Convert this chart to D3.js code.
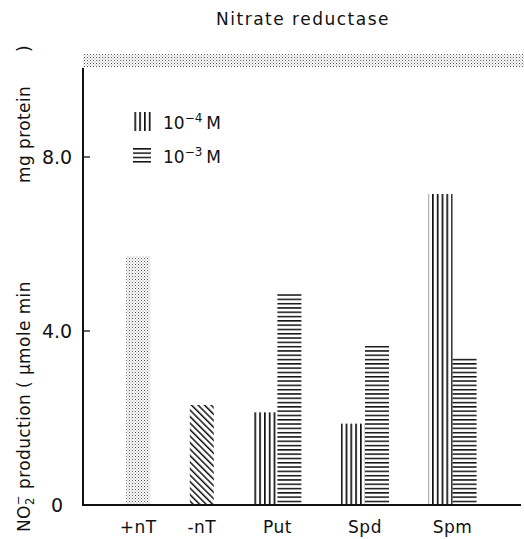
<!DOCTYPE html>
<html>
<head>
<meta charset="utf-8">
<script src="https://cdn.jsdelivr.net/npm/d3@7"></script>
<style>
  body { margin: 0; background: #fff; }
  text { font-family: "DejaVu Sans", sans-serif; fill: #111; }
</style>
</head>
<body>
<svg id="chart" width="524" height="539"></svg>
<script>
// data
var categories = ['+nT', '-nT', 'Put', 'Spd', 'Spm'];
var controlValues = [5.72, 2.30, null, null, null];
var lowValues = [null, null, 2.13, 1.87, 7.15];   // 10^-4 M
var highValues = [null, null, 4.86, 3.67, 3.40];  // 10^-3 M
var yTicks = [0, 4, 8];
var yTickLabels = ['0', '4.0', '8.0'];

var svg = d3.select('#chart');
var axisX = 83, baseY = 505, topY = 68;
var barW = 24, gap = 1.65, firstGap = 1.8;

var y = d3.scaleLinear().domain([0, 8]).range([baseY, 157]);
var x = d3.scaleLinear().domain([0, 1]).range([axisX, axisX + barW]);

var defs = svg.append('defs');

// stipple
var stip = defs.append('pattern').attr('id', 'stipple')
  .attr('patternUnits', 'userSpaceOnUse').attr('width', 3).attr('height', 3);
stip.append('rect').attr('x', 0).attr('y', 0).attr('width', 1).attr('height', 1).attr('fill', '#555');
stip.append('rect').attr('x', 1.5).attr('y', 1.5).attr('width', 1).attr('height', 1).attr('fill', '#888');

// diagonal "\"
var diag = defs.append('pattern').attr('id', 'diag')
  .attr('patternUnits', 'userSpaceOnUse').attr('width', 4.6).attr('height', 10)
  .attr('patternTransform', 'rotate(-45)');
diag.append('rect').attr('x', 0).attr('y', 0).attr('width', 1.5).attr('height', 10).attr('fill', '#111');

// vertical lines
var vert = defs.append('pattern').attr('id', 'vert')
  .attr('patternUnits', 'userSpaceOnUse').attr('width', 4.8).attr('height', 10);
vert.append('rect').attr('x', 0).attr('y', 0).attr('width', 1.7).attr('height', 10).attr('fill', '#111');

// horizontal lines
var horiz = defs.append('pattern').attr('id', 'horiz')
  .attr('patternUnits', 'userSpaceOnUse').attr('width', 10).attr('height', 4.3)
  .attr('y', baseY);
horiz.append('rect').attr('x', 0).attr('y', 0).attr('width', 10).attr('height', 1.5).attr('fill', '#111');

// build bars, groups laid out one after another with a constant gap
var bars = [];
var pos = firstGap;
categories.forEach(function (c, i) {
  var start = pos;
  var members = [];
  if (controlValues[i] != null) {
    members.push({ v: controlValues[i], fill: i === 0 ? 'url(#stipple)' : 'url(#diag)' });
  }
  if (lowValues[i] != null) members.push({ v: lowValues[i], fill: 'url(#vert)' });
  if (highValues[i] != null) members.push({ v: highValues[i], fill: 'url(#horiz)' });
  members.forEach(function (m, j) {
    bars.push({ u: start + j, v: m.v, fill: m.fill });
  });
  var center = start + members.length / 2;
  svg.append('text')
    .attr('x', x(center)).attr('y', 533)
    .attr('text-anchor', 'middle')
    .style('font-size', '17px')
    .style('letter-spacing', '0.5px')
    .text(c);
  pos = start + members.length + gap;
});

svg.selectAll('rect.bar').data(bars).enter()
  .append('rect')
  .attr('class', 'bar')
  .attr('x', function (d) { return x(d.u); })
  .attr('y', function (d) { return y(d.v); })
  .attr('width', barW)
  .attr('height', function (d) { return baseY - y(d.v); })
  .attr('fill', function (d) { return d.fill; });

// top stippled band
svg.append('rect')
  .attr('x', axisX).attr('y', 54)
  .attr('width', 524 - axisX).attr('height', 13)
  .attr('fill', 'url(#stipple)');

// axes
svg.append('line')
  .attr('x1', axisX).attr('x2', axisX)
  .attr('y1', topY).attr('y2', baseY + 1)
  .attr('stroke', '#111').attr('stroke-width', 2);
svg.append('line')
  .attr('x1', axisX - 1).attr('x2', 521)
  .attr('y1', baseY).attr('y2', baseY)
  .attr('stroke', '#111').attr('stroke-width', 2);

svg.selectAll('line.tick').data(yTicks.filter(function (t) { return t > 0; })).enter()
  .append('line')
  .attr('class', 'tick')
  .attr('x1', axisX).attr('x2', axisX + 7)
  .attr('y1', function (d) { return y(d); })
  .attr('y2', function (d) { return y(d); })
  .attr('stroke', '#111').attr('stroke-width', 1.3);

svg.selectAll('text.ylab').data(yTicks).enter()
  .append('text')
  .attr('class', 'ylab')
  .attr('x', 57)
  .attr('y', function (d) { return y(d) + 7; })
  .attr('text-anchor', 'middle')
  .style('font-size', '19px')
  .text(function (d, i) { return yTickLabels[i]; });

// title
svg.append('text')
  .attr('x', 303).attr('y', 25)
  .attr('text-anchor', 'middle')
  .style('font-size', '17px')
  .style('letter-spacing', '1.5px')
  .text('Nitrate reductase');

// y axis title (the -1 exponents are missing in the original, leaving gaps)
var yt = svg.append('text')
  .attr('transform', 'translate(30,532) rotate(-90)')
  .attr('text-anchor', 'start')
  .style('font-size', '17px')
  .style('letter-spacing', '0.4px');
yt.append('tspan').attr('x', 0).text('NO');
yt.append('tspan').attr('dy', 4).style('font-size', '11.5px').text('2');
yt.append('tspan').attr('dx', -7.5).attr('dy', -12).style('font-size', '11.5px').text('\u2212');
yt.append('tspan').attr('dy', 8).text(' production ( \u00b5mole min');
yt.append('tspan').attr('x', 349).text('mg protein');
yt.append('tspan').attr('x', 480).text(')');

// legend
var legend = [
  { fill: 'url(#vert)', base: '10', sup: '\u22124', y: 112 },
  { fill: 'url(#horiz)', base: '10', sup: '\u22123', y: 146 }
];
legend.forEach(function (l) {
  svg.append('rect')
    .attr('x', 133).attr('y', l.y)
    .attr('width', 18).attr('height', 19)
    .attr('fill', l.fill);
  var t = svg.append('text')
    .attr('x', 163).attr('y', l.y + 17)
    .style('font-size', '17px');
  t.append('tspan').text(l.base);
  t.append('tspan').attr('dy', -7).style('font-size', '12px').text(l.sup);
  t.append('tspan').attr('dy', 7).attr('dx', 4).text('M');
});
</script>
</body>
</html>
